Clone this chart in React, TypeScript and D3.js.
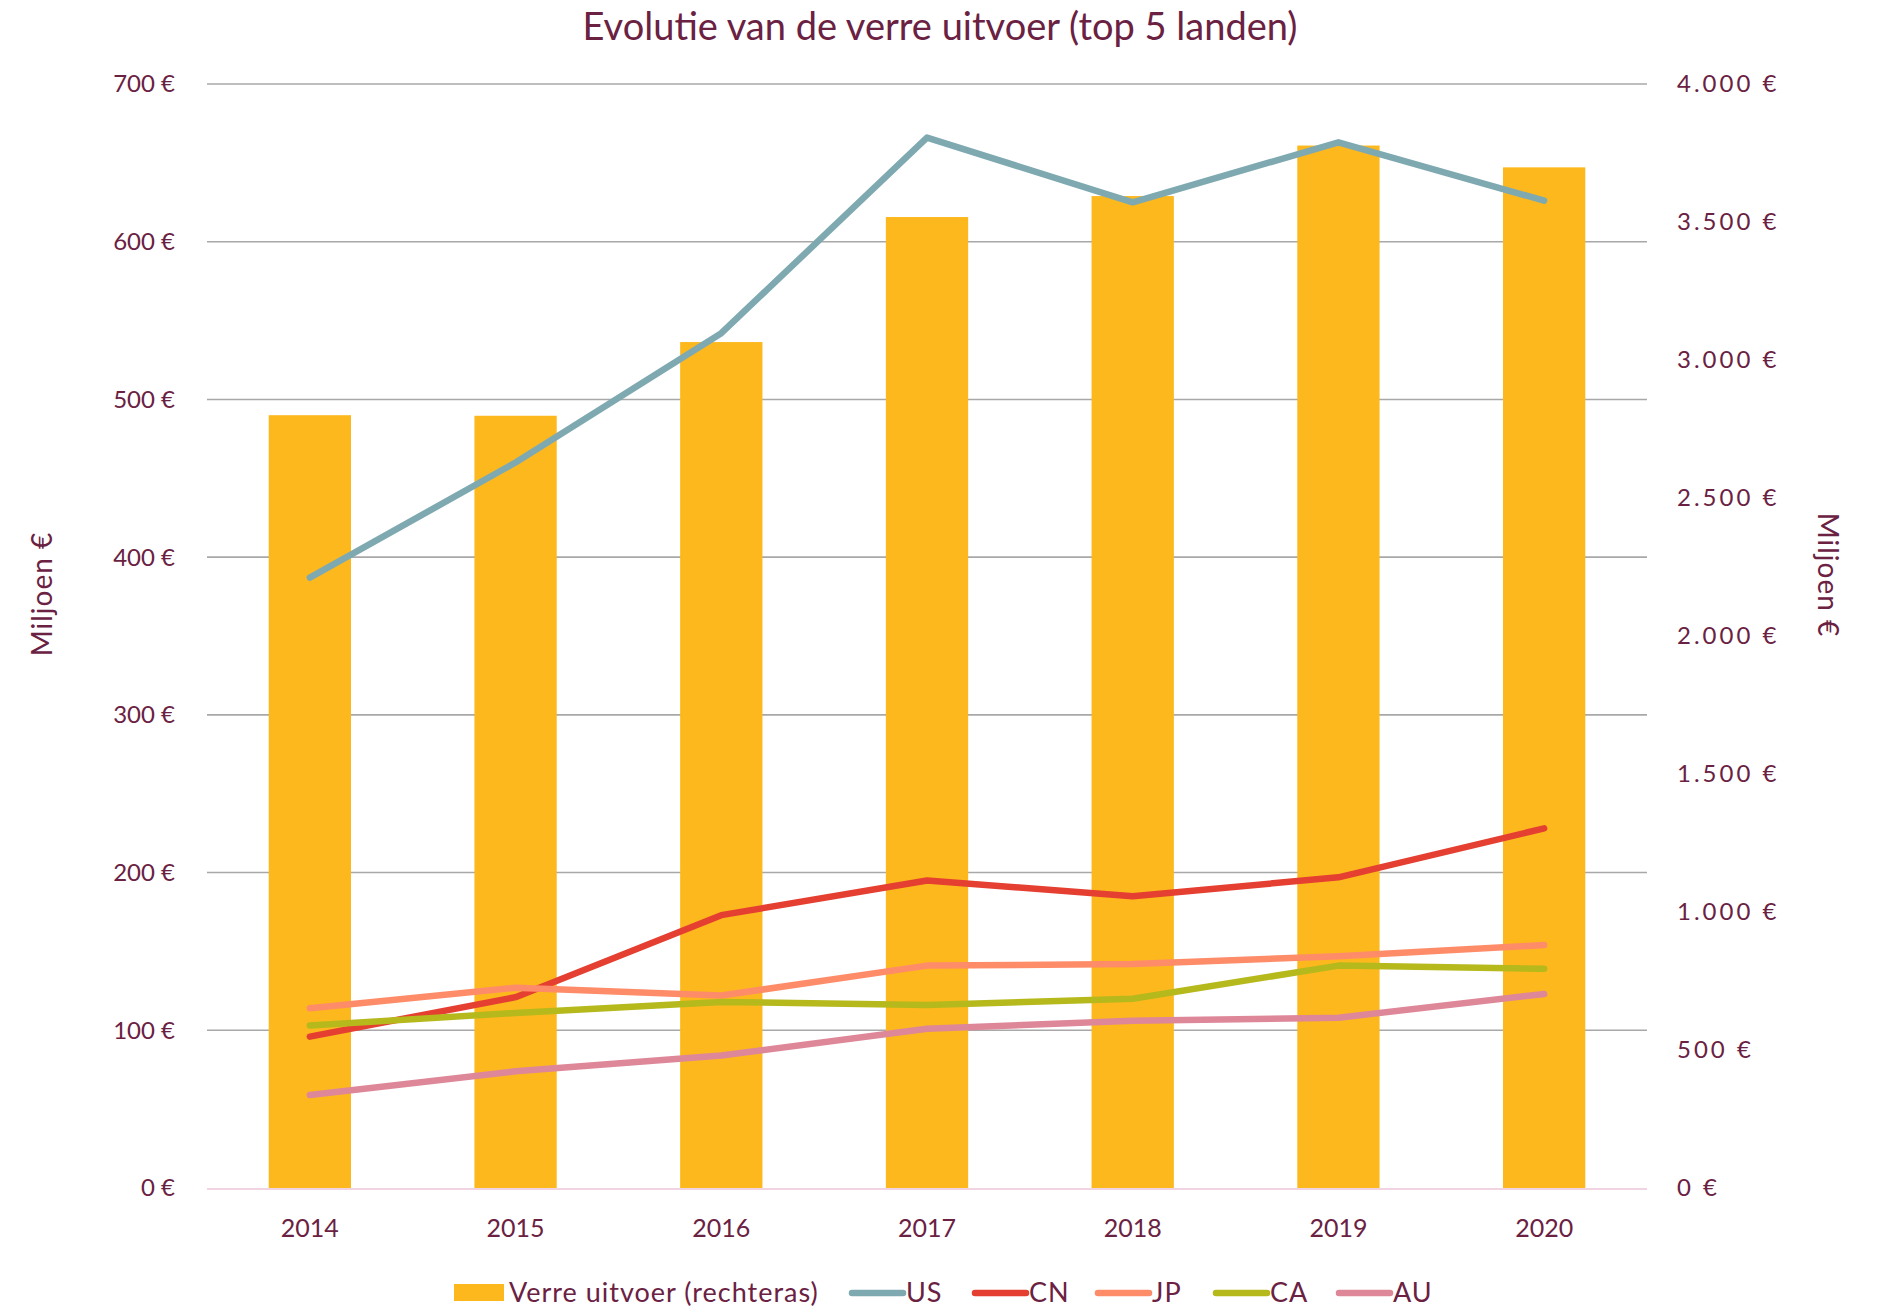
import React from "react";
import * as d3 from "d3";

const years = ["2014", "2015", "2016", "2017", "2018", "2019", "2020"];
const verreUitvoer = [2800, 2798, 3065, 3518, 3594, 3777, 3698];
const us = [387, 460, 542, 666, 625, 663, 626];
const cn = [96, 121, 173, 195, 185, 197, 228];
const jp = [114, 127, 122, 141, 142, 147, 154];
const ca = [103, 111, 118, 116, 120, 141, 139];
const au = [59, 74, 84, 101, 106, 108, 123];
const leftTicks = [0, 100, 200, 300, 400, 500, 600, 700];
const rightTicks = [0, 500, 1000, 1500, 2000, 2500, 3000, 3500, 4000];

const series = [
  { name: "US", values: us, color: "#7FA9B0" },
  { name: "CN", values: cn, color: "#E43F31" },
  { name: "JP", values: jp, color: "#FF8C69" },
  { name: "CA", values: ca, color: "#B6B91C" },
  { name: "AU", values: au, color: "#DE8799" },
];

const W = 1877;
const H = 1311;
const textColor = "#6A2142";
const font = "Lato, 'Open Sans', sans-serif";

export default function App() {
  const margin = { top: 84, right: 230, bottom: 123, left: 207 };
  const x = d3
    .scaleBand()
    .domain(years)
    .range([margin.left, W - margin.right])
    .padding(0);
  const yLeft = d3.scaleLinear().domain([0, 700]).range([H - margin.bottom, margin.top]);
  const yRight = d3.scaleLinear().domain([0, 4000]).range([H - margin.bottom, margin.top]);
  const barW = x.bandwidth() * 0.4;
  const cx = (y: string) => (x(y) ?? 0) + x.bandwidth() / 2;

  const line = d3
    .line<number>()
    .x((_, i) => cx(years[i]))
    .y((d) => yLeft(d));

  const fmtRight = (v: number) =>
    d3.format(",")(v).replace(/,/g, ".") + " €";

  const [x0, x1] = x.range();

  // legend layout
  const legendY = 1293;
  const legendItems = [
    { kind: "bar", label: "Verre uitvoer (rechteras)", x: 454, color: "#FDB81E" },
    { kind: "line", label: "US", x: 849, color: series[0].color },
    { kind: "line", label: "CN", x: 972, color: series[1].color },
    { kind: "line", label: "JP", x: 1095, color: series[2].color },
    { kind: "line", label: "CA", x: 1213, color: series[3].color },
    { kind: "line", label: "AU", x: 1336, color: series[4].color },
  ];

  return (
    <svg
      width={W}
      height={H}
      style={{ position: "absolute", left: 0, top: 0, background: "#fff" }}
      fontFamily={font}
    >
      <text
        x={940}
        y={40}
        textAnchor="middle"
        fontSize={38}
        fill={textColor}
      >
        Evolutie van de verre uitvoer (top 5 landen)
      </text>

      {/* gridlines */}
      {leftTicks.slice(1).map((t) => (
        <line
          key={t}
          x1={x0}
          x2={x1}
          y1={yLeft(t)}
          y2={yLeft(t)}
          stroke="#A8A8A8"
          strokeWidth={1.6}
        />
      ))}

      {/* bars on right axis */}
      {verreUitvoer.map((v, i) => (
        <rect
          key={years[i]}
          x={cx(years[i]) - barW / 2}
          y={yRight(v)}
          width={barW}
          height={yRight(0) - yRight(v)}
          fill="#FDB81E"
        />
      ))}

      <line
        x1={x0}
        x2={x1}
        y1={yLeft(0) + 1}
        y2={yLeft(0) + 1}
        stroke="#F0D4E2"
        strokeWidth={2}
      />

      {series.map((s) => (
        <path
          key={s.name}
          d={line(s.values) ?? ""}
          fill="none"
          stroke={s.color}
          strokeWidth={6.5}
          strokeLinecap="round"
          strokeLinejoin="round"
        />
      ))}

      {/* left axis */}
      {leftTicks.map((t) => (
        <text
          key={t}
          x={175}
          y={yLeft(t)}
          dy="0.35em"
          textAnchor="end"
          fontSize={24}
          fill={textColor}
        >
          {t} €
        </text>
      ))}
      {/* right axis */}
      {rightTicks.map((t) => (
        <text
          key={t}
          x={1677}
          y={yRight(t)}
          dy="0.35em"
          textAnchor="start"
          fontSize={24}
          letterSpacing={3}
          fill={textColor}
        >
          {fmtRight(t)}
        </text>
      ))}
      {/* x axis */}
      {years.map((y) => (
        <text
          key={y}
          x={cx(y)}
          y={1228}
          dy="0.35em"
          textAnchor="middle"
          fontSize={25}
          fill={textColor}
        >
          {y}
        </text>
      ))}

      <text
        transform="translate(42,594) rotate(-90)"
        textAnchor="middle"
        dy="0.35em"
        fontSize={28}
        letterSpacing={1}
        fill={textColor}
      >
        Miljoen €
      </text>
      <text
        transform="translate(1828,575) rotate(90)"
        textAnchor="middle"
        dy="0.35em"
        fontSize={28}
        letterSpacing={1}
        fill={textColor}
      >
        Miljoen €
      </text>

      {/* legend */}
      {legendItems.map((it) => (
        <g key={it.label}>
          {it.kind === "bar" ? (
            <rect x={it.x} y={legendY - 9} width={50} height={17} fill={it.color} />
          ) : (
            <line
              x1={it.x + 3}
              x2={it.x + 54}
              y1={legendY}
              y2={legendY}
              stroke={it.color}
              strokeWidth={6.5}
              strokeLinecap="round"
            />
          )}
          <text
            x={it.kind === "bar" ? it.x + 55 : it.x + 57}
            y={legendY}
            dy="0.35em"
            fontSize={27}
            letterSpacing={1}
            fill={textColor}
          >
            {it.label}
          </text>
        </g>
      ))}
    </svg>
  );
}
